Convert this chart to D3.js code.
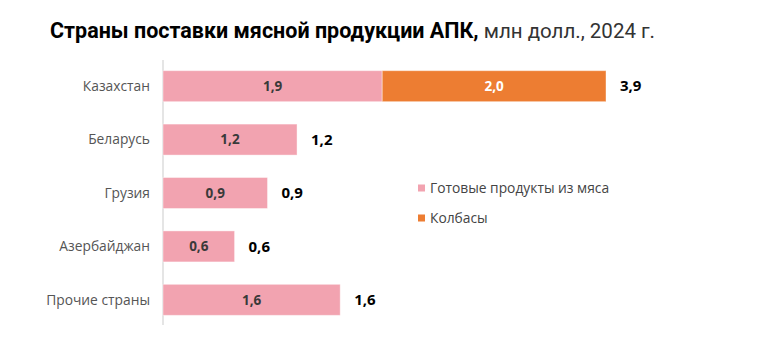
<!DOCTYPE html>
<html><head><meta charset="utf-8">
<script src="https://cdn.jsdelivr.net/npm/d3@7"></script>
<style>body{margin:0;background:#fff}</style>
</head><body>
<svg id="c" width="783" height="353"></svg>
<script>
const categories = ["Казахстан","Беларусь","Грузия","Азербайджан","Прочие страны"];
const seriesNames = ["Готовые продукты из мяса","Колбасы"];
const readyMeat = [1.93,1.18,0.92,0.63,1.56];
const sausages = [1.97,0,0,0,0];
const colors = ["#F2A3B0","#ED7D32"];

const svg = d3.select("#c");
const font = "'Open Sans', sans-serif";
const x0 = 163;
const x = d3.scaleLinear().domain([0,3.9]).range([x0,606]);
const y = d3.scaleBand().domain(categories).range([60,326]).paddingInner(0.42).paddingOuter(0.2);

const fmt = v => d3.format(".1f")(v).replace(".",",");

// title
const t = svg.append("text").attr("x",50).attr("y",38).attr("font-family","Roboto, sans-serif").attr("font-size",21.5).attr("fill","#000");
t.append("tspan").attr("font-weight","bold").text("Страны поставки мясной продукции АПК,");
t.append("tspan").attr("font-weight","normal").attr("fill","#333").attr("font-size",20.5).text(" млн долл., 2024 г.");

// axis line
svg.append("line").attr("x1",x0).attr("x2",x0).attr("y1",60).attr("y2",325).attr("stroke","#ddd").attr("stroke-width",1.5);

const data = categories.map((c,i)=>({c, vals:[readyMeat[i],sausages[i]]}));
const series = d3.stack().keys([0,1]).value((d,k)=>d.vals[k])(data);

series.forEach((s,k)=>{
  svg.append("g").selectAll("rect").data(s.filter(d=>d.data.vals[k]>0)).join("rect")
    .attr("x",d=>x(d[0])).attr("width",d=>x(d[1])-x(d[0]))
    .attr("y",d=>y(d.data.c)).attr("height",y.bandwidth())
    .attr("fill",colors[k]).attr("stroke","#fff").attr("stroke-opacity",0.4).attr("stroke-width",1);
  svg.append("g").selectAll("text").data(s.filter(d=>d.data.vals[k]>0)).join("text")
    .attr("x",d=>(x(d[0])+x(d[1]))/2).attr("y",d=>y(d.data.c)+y.bandwidth()/2)
    .attr("dy","0.35em").attr("text-anchor","middle")
    .attr("font-family",font).attr("font-size",13.5).attr("font-weight",700)
    .attr("fill",k===0?"#3a3a3a":"#fff").text(d=>fmt(d.data.vals[k]));
});

// totals
svg.append("g").selectAll("text").data(data).join("text")
  .attr("x",d=>x(d.vals[0]+d.vals[1])+14).attr("y",d=>y(d.c)+y.bandwidth()/2)
  .attr("dy","0.35em").attr("font-family",font).attr("font-size",15).attr("font-weight",700)
  .attr("fill","#000").text(d=>fmt(d.vals[0]+d.vals[1]));

// category labels
svg.append("g").selectAll("text").data(categories).join("text")
  .attr("x",150).attr("y",d=>y(d)+y.bandwidth()/2).attr("dy","0.35em").attr("text-anchor","end")
  .attr("font-family",font).attr("font-size",13.8).attr("fill","#555").text(d=>d);

// legend
const lg = svg.append("g").selectAll("g").data(seriesNames).join("g")
  .attr("transform",(d,i)=>`translate(418,${188+i*30})`);
lg.append("rect").attr("x",0).attr("y",-3.5).attr("width",7).attr("height",7).attr("fill",(d,i)=>colors[i]);
lg.append("text").attr("x",12).attr("y",0).attr("dy","0.35em").attr("font-family",font).attr("font-size",13.8).attr("fill","#444").text(d=>d);
</script>
</body></html>
